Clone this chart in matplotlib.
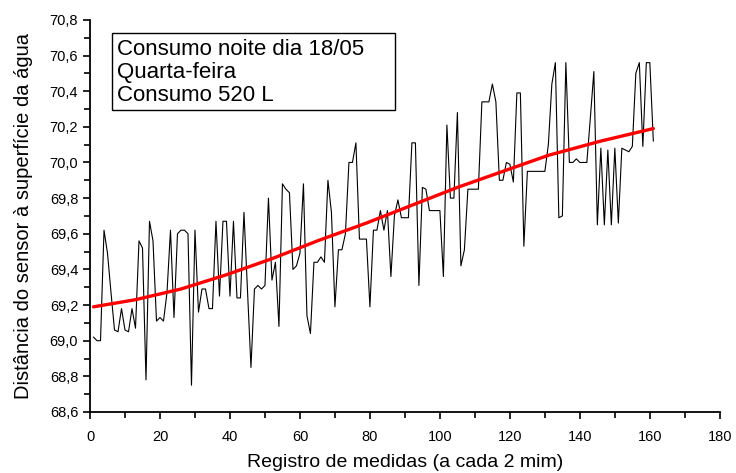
import numpy as np
import matplotlib
matplotlib.use('Agg')
import matplotlib.pyplot as plt
from matplotlib.patches import Rectangle
from matplotlib.ticker import MultipleLocator, FuncFormatter

plt.rcParams['font.family'] = ['Liberation Sans', 'DejaVu Sans']

# leitura do sensor (cm), uma medida a cada 2 min
distancia = [
    69.02, 69.00, 69.00, 69.62, 69.49, 69.27, 69.06, 69.05, 69.18, 69.06,
    69.05, 69.18, 69.07, 69.56, 69.52, 68.78, 69.67, 69.56, 69.11, 69.13,
    69.11, 69.27, 69.62, 69.13, 69.60, 69.62, 69.62, 69.60, 68.75, 69.62,
    69.16, 69.29, 69.29, 69.18, 69.18, 69.67, 69.25, 69.67, 69.67, 69.25,
    69.67, 69.24, 69.24, 69.72, 69.28, 68.85, 69.29, 69.31, 69.29, 69.31,
    69.80, 69.34, 69.44, 69.08, 69.88, 69.85, 69.83, 69.40, 69.42, 69.49,
    69.88, 69.14, 69.04, 69.44, 69.44, 69.47, 69.44, 69.90, 69.72, 69.19,
    69.51, 69.51, 69.60, 70.00, 70.00, 70.11, 69.57, 69.57, 69.57, 69.19,
    69.62, 69.62, 69.73, 69.62, 69.73, 69.36, 69.70, 69.79, 69.69, 69.69,
    69.69, 70.11, 70.11, 69.31, 69.86, 69.85, 69.73, 69.73, 69.73, 69.73,
    69.36, 70.21, 69.80, 69.80, 70.28, 69.42, 69.51, 69.85, 69.85, 69.85,
    69.85, 70.34, 70.34, 70.34, 70.44, 70.34, 69.90, 69.90, 70.00, 69.99,
    69.89, 70.39, 70.39, 69.53, 69.95, 69.95, 69.95, 69.95, 69.95, 69.95,
    70.10, 70.44, 70.56, 69.69, 69.70, 70.56, 70.00, 70.00, 70.02, 70.00,
    70.00, 70.00, 70.25, 70.51, 69.65, 70.08, 69.65, 70.07, 69.65, 70.08,
    69.66, 70.08, 70.07, 70.06, 70.09, 70.50, 70.56, 70.09, 70.56, 70.56,
    70.12,
]
registro = np.arange(1, len(distancia) + 1)

# curva de ajuste (vermelha)
ajuste_x = [1, 13, 26, 39, 52, 65, 79, 92, 105, 118, 131, 146, 161]
ajuste_y = [69.19, 69.23, 69.29, 69.37, 69.46, 69.56, 69.66, 69.76, 69.86,
            69.95, 70.04, 70.12, 70.19]

legenda = 'Consumo noite dia 18/05\nQuarta-feira\nConsumo 520 L'

fig = plt.figure(figsize=(7.36, 4.73), dpi=100)
ax = fig.add_axes([0.1223, 0.129, 0.8557, 0.829])

ax.plot(registro, distancia, color='black', lw=0.8)
ax.plot(ajuste_x, ajuste_y, color='red', lw=2.4, solid_capstyle='round')

ax.set_xlim(0, 180)
ax.set_ylim(68.6, 70.8)
ax.xaxis.set_major_locator(MultipleLocator(20))
ax.xaxis.set_minor_locator(MultipleLocator(10))
ax.yaxis.set_major_locator(MultipleLocator(0.2))
ax.yaxis.set_minor_locator(MultipleLocator(0.1))
ax.yaxis.set_major_formatter(FuncFormatter(lambda v, _: f'{v:.1f}'.replace('.', ',')))

for s in ('top', 'right'):
    ax.spines[s].set_visible(False)
for s in ('left', 'bottom'):
    ax.spines[s].set_linewidth(1.3)
ax.tick_params(which='major', direction='out', length=5, width=1.2, labelsize=10.5)
ax.tick_params(which='minor', direction='out', length=4, width=1.2)
ax.tick_params(axis='x', pad=8)

ax.set_xlabel('Registro de medidas (a cada 2 mim)', fontsize=14, labelpad=7)
ax.set_ylabel('Distância do sensor à superfície da água', fontsize=14.5, labelpad=12)

# caixa de texto
ax.add_patch(Rectangle((0.035, 0.770), 0.449, 0.197, transform=ax.transAxes,
                       facecolor='white', edgecolor='black', lw=1, zorder=3))
ax.text(0.043, 0.950, legenda, transform=ax.transAxes, fontsize=16,
        va='top', ha='left', linespacing=1.12, zorder=4)

fig.savefig('out.png', dpi=100)
